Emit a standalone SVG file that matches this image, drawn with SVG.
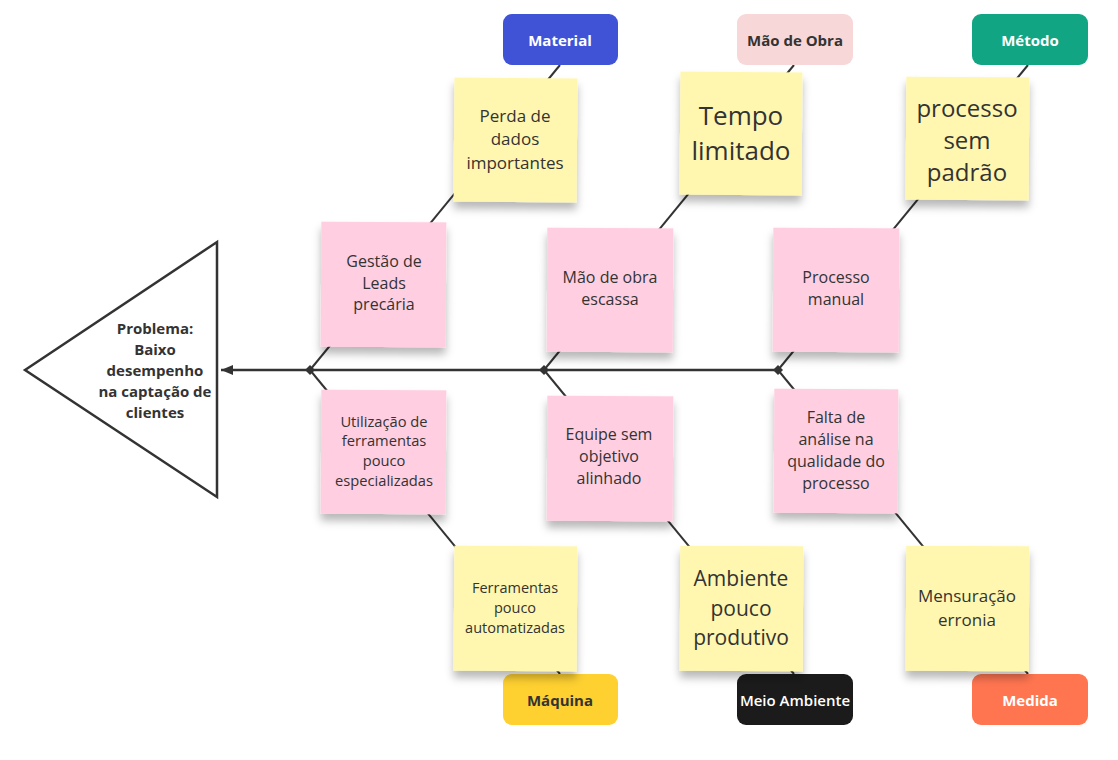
<svg xmlns="http://www.w3.org/2000/svg" width="1118" height="760" viewBox="0 0 1118 760">
<defs>
<style>
.ln{stroke:#333;stroke-width:2;fill:none}
.sp{stroke:#333;stroke-width:2.5;fill:none}
.y{fill:#FFF7B0}
.p{fill:#FFCFE1}
.t{font-family:"Open Sans","Noto Sans","Liberation Sans",sans-serif;fill:#333;text-anchor:middle;dominant-baseline:central}
.h{font-family:"Open Sans","Noto Sans","Liberation Sans",sans-serif;font-weight:700;font-size:15px;text-anchor:middle;dominant-baseline:central}
</style>
<filter id="sh" x="-20%" y="-20%" width="140%" height="150%">
<feDropShadow dx="0" dy="7" stdDeviation="4" flood-color="#000" flood-opacity="0.28"/>
</filter>
<marker id="arr" viewBox="0 0 12 10" refX="12" refY="5" markerWidth="12" markerHeight="10" markerUnits="userSpaceOnUse" orient="auto">
<path d="M0,0 L12,5 L0,10 z" fill="#333"/>
</marker>
<path id="dm" d="M0,-5 L5,0 L0,5 L-5,0 z" fill="#333"/>
</defs>
<rect width="1118" height="760" fill="#fff"/>

<g id="connectors">
<line class="sp" x1="778" y1="370" x2="221" y2="370" marker-end="url(#arr)"/>
<line class="ln" x1="310" y1="370" x2="560" y2="65"/>
<line class="ln" x1="544" y1="370" x2="794" y2="65"/>
<line class="ln" x1="778" y1="370" x2="1028" y2="65"/>
<line class="ln" x1="310" y1="370" x2="560" y2="674"/>
<line class="ln" x1="544" y1="370" x2="794" y2="674"/>
<line class="ln" x1="778" y1="370" x2="1028" y2="674"/>
<use href="#dm" x="310" y="370"/>
<use href="#dm" x="544" y="370"/>
<use href="#dm" x="778" y="370"/>
</g>

<g id="problema">
<polygon points="25,370 217,242 217,497" fill="#fff" stroke="#333" stroke-width="2.5" stroke-linejoin="miter"/>
<text class="h" fill="#333" x="155"><tspan x="155" y="328">Problema:</tspan><tspan x="155" y="349">Baixo</tspan><tspan x="155" y="370">desempenho</tspan><tspan x="155" y="391">na captação de</tspan><tspan x="155" y="412">clientes</tspan></text>
</g>

<g id="material"><rect x="503" y="14" width="115" height="51" rx="9" fill="#4053D7"/><text class="h" fill="#fff" x="560" y="40">Material</text></g>
<g id="maodeobra"><rect x="737" y="14" width="116" height="51" rx="9" fill="#F7D7D8"/><text class="h" fill="#333" x="795" y="40">Mão de Obra</text></g>
<g id="metodo"><rect x="972" y="14" width="116" height="51" rx="9" fill="#12A584"/><text class="h" fill="#fff" x="1030" y="40">Método</text></g>
<g id="maquina"><rect x="503" y="674" width="115" height="51" rx="9" fill="#FED030"/><text class="h" fill="#333" x="560" y="700">Máquina</text></g>
<g id="meioambiente"><rect x="737" y="674" width="116" height="51" rx="9" fill="#1B1B1B"/><text class="h" style="font-weight:600" fill="#fff" x="795" y="700">Meio Ambiente</text></g>
<g id="medida"><rect x="972" y="674" width="116" height="51" rx="9" fill="#FF7550"/><text class="h" fill="#fff" x="1030" y="700">Medida</text></g>

<g id="n-perda"><rect class="y" x="454" y="78" width="123" height="124" filter="url(#sh)" transform="rotate(0.4 515 140)"/><text class="t" font-size="17"><tspan x="515" y="115">Perda de</tspan><tspan x="515" y="138">dados</tspan><tspan x="515" y="162">importantes</tspan></text></g>
<g id="n-tempo"><rect class="y" x="680" y="72" width="122" height="123" filter="url(#sh)" transform="rotate(0.4 741 133)"/><text class="t" font-size="26"><tspan x="741" y="115">Tempo</tspan><tspan x="741" y="150">limitado</tspan></text></g>
<g id="n-processo-sem"><rect class="y" x="906" y="77" width="123" height="123" filter="url(#sh)" transform="rotate(0.3 967 138)"/><text class="t" font-size="24"><tspan x="967" y="107">processo</tspan><tspan x="967" y="139">sem</tspan><tspan x="967" y="171">padrão</tspan></text></g>

<g id="n-gestao"><rect class="p" x="321" y="222" width="125" height="125" filter="url(#sh)" transform="rotate(0.3 383 284)"/><text class="t" font-size="16"><tspan x="384" y="261">Gestão de</tspan><tspan x="384" y="283">Leads</tspan><tspan x="384" y="304">precária</tspan></text></g>
<g id="n-maodeobra"><rect class="p" x="547" y="228" width="126" height="124" filter="url(#sh)" transform="rotate(0.3 610 290)"/><text class="t" font-size="16"><tspan x="610" y="277">Mão de obra</tspan><tspan x="610" y="299">escassa</tspan></text></g>
<g id="n-manual"><rect class="p" x="773" y="228" width="126" height="124" filter="url(#sh)" transform="rotate(0.3 836 290)"/><text class="t" font-size="16"><tspan x="836" y="277">Processo</tspan><tspan x="836" y="299">manual</tspan></text></g>

<g id="n-utilizacao"><rect class="p" x="321" y="390" width="125" height="124" filter="url(#sh)" transform="rotate(0.3 383 452)"/><text class="t" font-size="14.7"><tspan x="384" y="421">Utilização de</tspan><tspan x="384" y="440">ferramentas</tspan><tspan x="384" y="460">pouco</tspan><tspan x="384" y="480">especializadas</tspan></text></g>
<g id="n-equipe"><rect class="p" x="547" y="396" width="126" height="125" filter="url(#sh)" transform="rotate(0.3 610 458)"/><text class="t" font-size="16"><tspan x="609" y="434">Equipe sem</tspan><tspan x="609" y="456">objetivo</tspan><tspan x="609" y="478">alinhado</tspan></text></g>
<g id="n-falta"><rect class="p" x="774" y="389" width="124" height="124" filter="url(#sh)" transform="rotate(0.3 836 451)"/><text class="t" font-size="16"><tspan x="836" y="417">Falta de</tspan><tspan x="836" y="439">análise na</tspan><tspan x="836" y="461">qualidade do</tspan><tspan x="836" y="483">processo</tspan></text></g>

<g id="n-ferramentas"><rect class="y" x="454" y="546" width="123" height="125" filter="url(#sh)" transform="rotate(0.3 515 608)"/><text class="t" font-size="14.5"><tspan x="515" y="587">Ferramentas</tspan><tspan x="515" y="607">pouco</tspan><tspan x="515" y="627">automatizadas</tspan></text></g>
<g id="n-ambiente"><rect class="y" x="680" y="546" width="123" height="125" filter="url(#sh)" transform="rotate(0.2 741 608)"/><text class="t" font-size="21"><tspan x="741" y="578">Ambiente</tspan><tspan x="741" y="608">pouco</tspan><tspan x="741" y="637">produtivo</tspan></text></g>
<g id="n-mensuracao"><rect class="y" x="906" y="546" width="123" height="125" filter="url(#sh)" transform="rotate(0.2 967 608)"/><text class="t" font-size="17"><tspan x="967" y="595">Mensuração</tspan><tspan x="967" y="619">erronia</tspan></text></g>
</svg>
